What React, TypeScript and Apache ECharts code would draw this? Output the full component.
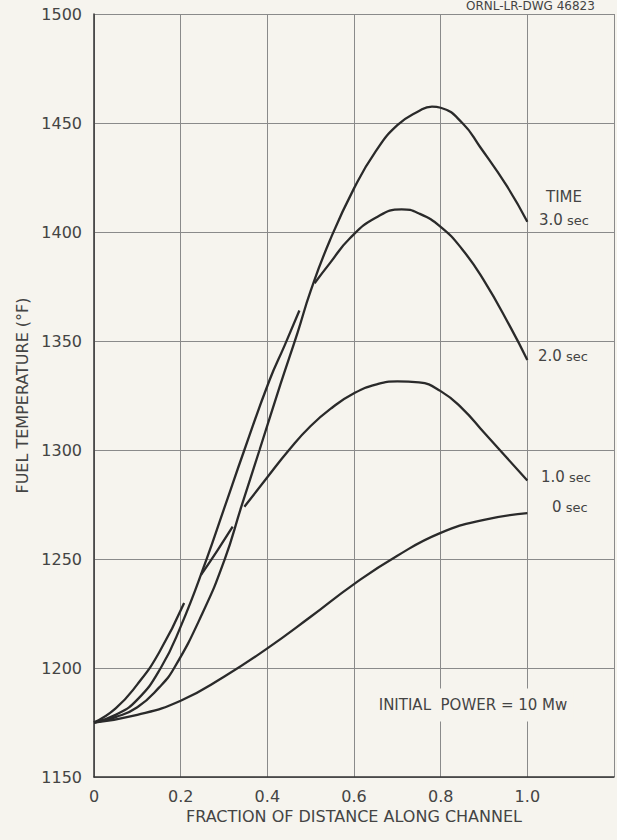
import React, { useEffect, useRef } from "react";
import * as echarts from "echarts";

// Axis ticks
const xTickValues = [0, 0.2, 0.4, 0.6, 0.8, 1.0, 1.2];
const yTickValues = [1150, 1200, 1250, 1300, 1350, 1400, 1450, 1500];

// Curves (null = break in the drawn line)
const dist0s = [0, 0.1, 0.2, 0.3, 0.4, 0.5, 0.6, 0.7, 0.8, 0.9, 1.0];
const temp0s = [1175, 1178.5, 1185, 1196, 1209, 1223.5, 1238.5, 1251.5, 1262, 1268, 1271];

const dist1s = [0, 0.05, 0.1, 0.15, 0.208, null, 0.247, 0.285, 0.32, null, 0.347, 0.4, 0.45, 0.5, 0.55, 0.6, 0.65, 0.7, 0.75, 0.8, 0.85, 0.9, 0.95, 1.0];
const temp1s = [1175, 1181.5, 1192.5, 1207, 1229.8, null, 1242.7, 1254, 1264.8, null, 1274, 1287.5, 1300, 1311, 1319.5, 1326, 1330, 1331.5, 1331, 1327, 1319, 1308, 1297, 1286];

const dist2s = [0, 0.05, 0.1, 0.154, 0.2, 0.259, 0.3, 0.347, 0.405, 0.44, 0.474, null, 0.509, 0.544, 0.59, 0.65, 0.71, 0.75, 0.8, 0.85, 0.899, 0.96, 1.0];
const temp2s = [1175, 1178.5, 1185.5, 1200, 1219, 1249.5, 1273, 1300, 1332, 1348, 1364, null, 1376.5, 1385.6, 1397, 1406.5, 1410.4, 1408.5, 1402.4, 1392, 1378, 1356.7, 1341.3];

const dist3s = [0, 0.05, 0.1, 0.15, 0.185, 0.25, 0.301, 0.34, 0.382, 0.43, 0.47, 0.5, 0.544, 0.6, 0.65, 0.7, 0.75, 0.78, 0.8, 0.85, 0.891, 0.953, 1.0];
const temp3s = [1175, 1177.5, 1182, 1191, 1200, 1225, 1249.5, 1274, 1300, 1330, 1354, 1373, 1396, 1420, 1437, 1449, 1455.5, 1457.5, 1457, 1450, 1439, 1421, 1404.7];

const curveLabels = ["3.0", "2.0", "1.0", "0"];

const PAPER = "#f6f4ee";
const INK = "#2a2a2a";
const TEXT = "#444444";
const FONT = "'DejaVu Sans', 'Liberation Sans', sans-serif";

function segments(xs: (number | null)[], ys: (number | null)[]) {
  const out: number[][][] = [];
  let cur: number[][] = [];
  xs.forEach((x, i) => {
    const y = ys[i];
    if (x === null || y === null) {
      if (cur.length) out.push(cur);
      cur = [];
    } else {
      cur.push([x, y]);
    }
  });
  if (cur.length) out.push(cur);
  return out;
}

export default function App() {
  const ref = useRef<HTMLDivElement>(null);

  useEffect(() => {
    if (!ref.current) return;
    const chart = echarts.init(ref.current, null, { renderer: "svg" });

    const curves = [
      segments(dist3s, temp3s),
      segments(dist2s, temp2s),
      segments(dist1s, temp1s),
      segments(dist0s, temp0s),
    ];
    const series: any[] = [];
    curves.forEach((segs, ci) => {
      segs.forEach((seg, si) => {
        series.push({
          name: curveLabels[ci] + " sec #" + si,
          type: "line",
          data: seg,
          smooth: 0.5,
          symbol: "none",
          silent: true,
          lineStyle: { color: INK, width: 2.3 },
          z: 3,
        });
      });
    });

    const richLabel = {
      n: { fontSize: 15, fontFamily: FONT, fill: TEXT, color: TEXT },
      s: { fontSize: 13, fontFamily: FONT, fill: TEXT, color: TEXT },
    };

    const mkLabel = (num: string, x: number, y: number) => ({
      type: "text",
      x,
      y,
      z: 100,
      style: {
        text: `{n|${num}}{s| sec}`,
        rich: richLabel,
        verticalAlign: "middle",
        fill: TEXT,
        font: `15px ${FONT}`,
      },
    });

    chart.setOption({
      animation: false,
      backgroundColor: PAPER,
      grid: { left: 94, right: 3, top: 14, bottom: 63 },
      xAxis: {
        type: "value",
        min: 0,
        max: 1.2,
        interval: 0.2,
        name: "FRACTION OF DISTANCE ALONG CHANNEL",
        nameLocation: "middle",
        nameGap: 28,
        nameTextStyle: { fontSize: 16, color: TEXT, fontFamily: FONT },
        axisLine: { show: true, lineStyle: { color: "#333", width: 1.5 } },
        axisTick: { show: false },
        axisLabel: {
          margin: 11,
          fontSize: 16,
          color: TEXT,
          fontFamily: FONT,
          customValues: xTickValues.slice(0, 6),
          formatter: (v: number) => (v === 0 ? "0" : v.toFixed(1)),
        },
        splitLine: { show: true, lineStyle: { color: "#8a8a8a", width: 1 } },
      },
      yAxis: {
        type: "value",
        min: yTickValues[0],
        max: yTickValues[yTickValues.length - 1],
        interval: 50,
        name: "FUEL TEMPERATURE (°F)",
        nameLocation: "middle",
        nameGap: 64,
        nameRotate: 90,
        nameTextStyle: { fontSize: 16, color: TEXT, fontFamily: FONT },
        axisLine: { show: true, lineStyle: { color: "#333", width: 1.5 } },
        axisTick: { show: false },
        axisLabel: {
          margin: 12,
          fontSize: 16,
          color: TEXT,
          fontFamily: FONT,
          formatter: (v: number) => String(v),
        },
        splitLine: { show: true, lineStyle: { color: "#8a8a8a", width: 1 } },
      },
      graphic: [
        {
          type: "text",
          x: 466,
          y: 0,
          z: 100,
          style: { text: "ORNL-LR-DWG 46823", font: `12px ${FONT}`, fill: TEXT },
        },
        {
          type: "text",
          x: 546,
          y: 197,
          z: 100,
          style: { text: "TIME", font: `15px ${FONT}`, fill: TEXT, verticalAlign: "middle" },
        },
        mkLabel("3.0", 539, 220),
        mkLabel("2.0", 538, 356),
        mkLabel("1.0", 541, 477),
        mkLabel("0", 552, 507),
        {
          type: "text",
          x: 473,
          y: 705,
          z: 100,
          style: {
            text: "INITIAL  POWER = 10 Mw",
            font: `15px ${FONT}`,
            fill: TEXT,
            align: "center",
            verticalAlign: "middle",
            backgroundColor: PAPER,
            padding: [9, 6, 9, 6],
          },
        },
      ],
      series,
    });

    return () => chart.dispose();
  }, []);

  return (
    <div
      ref={ref}
      style={{ position: "absolute", left: 0, top: 0, width: 617, height: 840, background: PAPER }}
    />
  );
}
